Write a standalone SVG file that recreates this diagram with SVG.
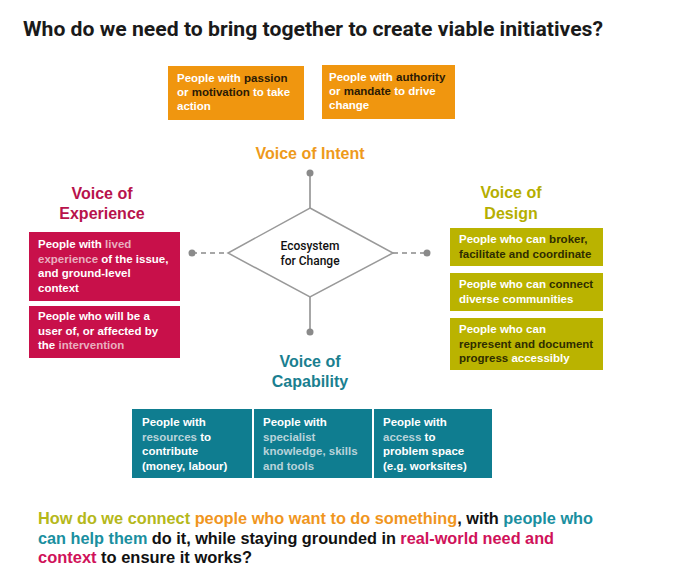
<svg xmlns="http://www.w3.org/2000/svg" width="680" height="575" viewBox="0 0 680 575">
<style>
.box{font-family:"Liberation Sans",Arial,sans-serif;font-weight:bold;font-size:11.5px;fill:#fff}
.dk{fill:#2b1a05}
.pk{fill:#e9aebf}
.lt{fill:#b9d3da}
.od{fill:#2f2d00}
.voice{font-family:"Liberation Sans",Arial,sans-serif;font-weight:bold;font-size:16px;text-anchor:middle}
.q{font-family:"Liberation Sans",Arial,sans-serif;font-weight:bold;font-size:16px;fill:#111}
.conn{stroke:#8a8a8a;stroke-width:1.5;fill:none}
.dash{stroke-dasharray:5 4}
.dot{fill:#8a8a8a}
</style>
<rect width="680" height="575" fill="#fff"/>
<text x="23" y="36" font-family="Roboto,'Liberation Sans',sans-serif" font-weight="bold" font-size="20" fill="#1a1a1a" textLength="580" lengthAdjust="spacingAndGlyphs">Who do we need to bring together to create viable initiatives?</text>

<g id="connectors">
<line class="conn" x1="310" y1="173" x2="310" y2="208"/>
<line class="conn" x1="310" y1="297" x2="310" y2="332"/>
<line class="conn dash" x1="192" y1="253" x2="228" y2="253"/>
<line class="conn dash" x1="393" y1="253" x2="427" y2="253"/>
<circle class="dot" cx="310" cy="173" r="3.5"/>
<circle class="dot" cx="310" cy="332" r="3.5"/>
<circle class="dot" cx="192" cy="253" r="3.5"/>
<circle class="dot" cx="427" cy="253" r="3.5"/>
</g>

<g id="ecosystem">
<polygon points="310,208 393,253 310,297 228,253" fill="#fff" stroke="#999" stroke-width="1.5"/>
<text font-family="Roboto,'Liberation Sans',sans-serif" font-weight="500" font-size="12" fill="#111" text-anchor="middle"><tspan x="310" y="250">Ecosystem</tspan><tspan x="310" y="265">for Change</tspan></text>
</g>

<g id="intent">
<text class="voice" x="310" y="159" fill="#ee9a1b">Voice of Intent</text>
<g id="intent-1">
<rect x="168" y="66" width="136" height="54" fill="#f0960f"/>
<text class="box"><tspan x="177" y="82">People with <tspan class="dk">passion</tspan></tspan><tspan x="177" y="96"><tspan>or </tspan><tspan class="dk">motivation</tspan> to  take</tspan><tspan x="177" y="110">action</tspan></text>
</g>
<g id="intent-2">
<rect x="322" y="65" width="133" height="54" fill="#f0960f"/>
<text class="box"><tspan x="329" y="81">People with <tspan class="dk">authority</tspan></tspan><tspan x="329" y="95">or <tspan class="dk">mandate</tspan> to drive</tspan><tspan x="329" y="109">change</tspan></text>
</g>
</g>

<g id="experience">
<text class="voice" fill="#b8134c"><tspan x="102" y="199">Voice of</tspan><tspan x="102" y="219">Experience</tspan></text>
<g id="experience-1">
<rect x="29" y="232" width="151" height="69" fill="#c8104a"/>
<text class="box"><tspan x="38" y="248">People with <tspan class="pk">lived</tspan></tspan><tspan x="38" y="262.5"><tspan class="pk">experience</tspan> of the issue,</tspan><tspan x="38" y="277">and ground-level</tspan><tspan x="38" y="291.5">context</tspan></text>
</g>
<g id="experience-2">
<rect x="29" y="306" width="151" height="52" fill="#c8104a"/>
<text class="box"><tspan x="38" y="320">People who will be a</tspan><tspan x="38" y="334.5">user of, or affected by</tspan><tspan x="38" y="349">the <tspan class="pk">intervention</tspan></tspan></text>
</g>
</g>

<g id="design">
<text class="voice" fill="#b5ae00"><tspan x="511" y="198">Voice of</tspan><tspan x="511" y="219">Design</tspan></text>
<g id="design-1">
<rect x="450" y="228" width="153" height="38" fill="#bab300"/>
<text class="box"><tspan x="459" y="243">People who can <tspan class="od">broker,</tspan></tspan><tspan x="459" y="257.5" class="od">facilitate and coordinate</tspan></text>
</g>
<g id="design-2">
<rect x="450" y="273" width="153" height="38" fill="#bab300"/>
<text class="box"><tspan x="459" y="288">People who can <tspan class="od">connect</tspan></tspan><tspan x="459" y="302.5">diverse communities</tspan></text>
</g>
<g id="design-3">
<rect x="450" y="318" width="153" height="52" fill="#bab300"/>
<text class="box"><tspan x="459" y="333">People who can</tspan><tspan x="459" y="347.5" class="od">represent and document</tspan><tspan x="459" y="362"><tspan class="od">progress</tspan> accessibly</tspan></text>
</g>
</g>

<g id="capability">
<text class="voice" fill="#1a7f90"><tspan x="310" y="367">Voice of</tspan><tspan x="310" y="387">Capability</tspan></text>
<g id="capability-1">
<rect x="132" y="409" width="120" height="69" fill="#0f7d90"/>
<text class="box"><tspan x="142" y="426">People with</tspan><tspan x="142" y="440.5"><tspan class="lt">resources</tspan> to</tspan><tspan x="142" y="455">contribute</tspan><tspan x="142" y="469.5">(money, labour)</tspan></text>
</g>
<g id="capability-2">
<rect x="254" y="409" width="118" height="69" fill="#0f7d90"/>
<text class="box"><tspan x="263" y="426">People with</tspan><tspan x="263" y="440.5" class="lt">specialist</tspan><tspan x="263" y="455" class="lt">knowledge, skills</tspan><tspan x="263" y="469.5" class="lt">and tools</tspan></text>
</g>
<g id="capability-3">
<rect x="374" y="409" width="118" height="69" fill="#0f7d90"/>
<text class="box"><tspan x="383" y="426">People with</tspan><tspan x="383" y="440.5"><tspan class="lt">access</tspan> to</tspan><tspan x="383" y="455">problem space</tspan><tspan x="383" y="469.5">(e.g. worksites)</tspan></text>
</g>
</g>

<text class="q" x="38" y="524" textLength="555" lengthAdjust="spacingAndGlyphs"><tspan fill="#b5b81a">How do we connect </tspan><tspan fill="#f0961e">people who want to do something</tspan>, with <tspan fill="#1a8fa0">people who</tspan></text>
<text class="q" x="38" y="544" textLength="516" lengthAdjust="spacingAndGlyphs"><tspan fill="#1a8fa0">can help them</tspan> do it, while staying grounded in <tspan fill="#d0125a">real-world need and</tspan></text>
<text class="q" x="38" y="563" textLength="214" lengthAdjust="spacingAndGlyphs"><tspan fill="#d0125a">context</tspan> to ensure it works?</text>
</svg>
